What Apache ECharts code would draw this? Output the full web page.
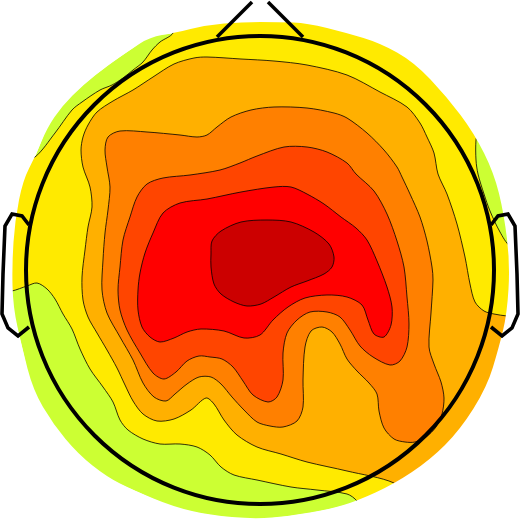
<!DOCTYPE html>
<html>
<head>
<meta charset="utf-8">
<script src="https://cdn.jsdelivr.net/npm/echarts@6/dist/echarts.min.js"></script>
<style>
html,body{margin:0;padding:0;background:#fff;}
#chart{width:521px;height:521px;}
</style>
</head>
<body>
<div id="chart"></div>
<script>
// Head-centred coordinates: x to the right, y upwards, head radius = 234 units.
const headRadius = 234;

// Colour of each contour level, lowest to highest.
const levelColors = ['#ccff33', '#ffea00', '#ffb000', '#ff8000', '#ff4500', '#ff0000', '#cc0000'];

// Outline of the interpolated (coloured) area.
const outerBoundary = [
  [-86,237],[-53,245],[-19,248],[20,248],[47,247],[87,237],[120,227],[154,208],[187,173],[214,137],
  [234,97],[244,56],[250,6],[247,-44],[239,-77],[227,-117],[200,-160],[170,-190],[134,-214],[97,-231],
  [70,-239],[30,-246],[-6,-249],[-50,-245],[-86,-237],[-127,-220],[-153,-207],[-182,-184],[-207,-154],
  [-227,-120],[-238,-77],[-247,-37],[-248,6],[-245,50],[-237,90],[-225,113],[-213,142],[-198,164],
  [-177,185],[-153,204],[-130,220],[-110,233]
];

// Level 1 region (yellow and above).
const level1 = [
  [-87,237],[-85,255],[0,262],[90,252],[170,215],[230,152],[218,136],
  [216,130],[216,110],[218,96],[224,76],[230,59],[240,38],[250,24],
  [261,24],[261,-130],[230,-200],[150,-250],[102,-242],[97,-231],
  [87,-224],[57,-220],[31,-217],[-3,-210],[-26,-205],[-39,-197],[-50,-185],[-63,-177],[-80,-174],
  [-100,-174],[-117,-169],[-132,-160],[-140,-150],[-147,-132],[-157,-117],[-170,-99],[-180,-79],
  [-188,-59],[-197,-44],[-205,-29],[-213,-19],[-223,-13],[-233,-16],[-248,-21],
  [-260,-22],[-260,95],[-240,110],
  [-225,113],[-205,137],[-188,160],[-178,168],[-160,180],[-148,185],[-137,192],[-127,200],
  [-117,208],[-108,220],[-100,228]
];

// Level 2 region (light orange and above).
const level2 = [
  [134,-213],[87,-201],[47,-192],[21,-184],[-3,-177],[-23,-165],[-36,-150],[-46,-134],[-54,-128],
  [-69,-140],[-86,-149],[-103,-151],[-117,-144],[-127,-131],[-135,-115],[-143,-98],[-153,-80],
  [-163,-63],[-172,-47],[-177,-30],[-178,-7],[-175,20],[-172,43],[-168,63],[-170,83],[-177,103],
  [-179,120],[-177,133],[-172,145],[-163,158],[-147,169],[-127,180],[-107,193],[-86,206],[-66,212],
  [-53,213],[-19,211],[14,209],[47,205],[87,195],[120,178],[147,163],[160,147],[167,133],[174,117],
  [178,96],[187,76],[197,46],[205,13],[210,-14],[215,-32],[224,-41],[234,-44],[247,-46],
  [261,-47],[261,-140],[200,-200],[140,-225]
];

// Level 3 region (orange and above).
const level3 = [
  [-152,133],[-140,139],[-113,138],[-80,135],[-63,133],[-53,135],[-43,143],[-29,153],[-9,160],
  [14,163],[47,162],[74,157],[87,152],[107,137],[124,120],[137,103],[142,93],[150,76],[160,53],
  [167,29],[172,3],[173,-10],[171,-43],[169,-77],[174,-94],[181,-112],[184,-128],[182,-144],
  [176,-157],[166,-167],[155,-172],[145,-172],[134,-169],[124,-158],[119,-141],[117,-124],
  [109,-113],[97,-101],[87,-89],[80,-74],[72,-62],[62,-57],[51,-61],[45,-77],[43,-110],[43,-137],
  [37,-151],[23,-157],[10,-156],[-3,-152],[-16,-140],[-28,-127],[-39,-114],[-49,-107],[-61,-107],
  [-73,-114],[-85,-124],[-94,-131],[-106,-127],[-117,-113],[-127,-90],[-140,-67],[-153,-43],
  [-158,-20],[-157,10],[-155,37],[-152,60],[-150,83],[-153,103],[-155,120]
];

// Level 4 region (red-orange and above).
const level4 = [
  [-142,-20],[-140,3],[-137,30],[-130,53],[-123,73],[-113,86],[-97,92],[-70,95],[-40,100],
  [-20,107],[-3,114],[24,123],[47,123],[67,118],[87,107],[96,96],[114,79],[127,56],[137,29],
  [144,3],[147,-27],[149,-54],[147,-77],[140,-91],[130,-95],[113,-87],[100,-76],[90,-60],
  [80,-47],[67,-42],[50,-42],[37,-50],[27,-63],[23,-83],[23,-110],[17,-127],[8,-132],[-7,-125],
  [-17,-111],[-27,-97],[-38,-89],[-50,-87],[-61,-86],[-73,-91],[-84,-102],[-96,-109],[-107,-103],
  [-120,-83],[-133,-60],[-140,-40]
];

// Level 5 region (red and above).
const level5 = [
  [-122,-20],[-120,-3],[-115,17],[-107,37],[-97,57],[-80,67],[-53,71],[-19,78],[14,83],[31,83],
  [47,76],[64,66],[81,53],[96,42],[107,30],[117,9],[127,-17],[132,-37],[131,-55],[124,-67],
  [114,-64],[108,-50],[102,-35],[87,-27],[67,-25],[45,-28],[28,-37],[13,-50],[0,-65],[-16,-68],
  [-36,-61],[-59,-59],[-73,-62],[-86,-68],[-100,-72],[-110,-67],[-118,-57],[-122,-40]
];

// Level 6 region (dark red, the maximum).
const level6 = [
  [-49,16],[-48,29],[-39,39],[-19,48],[7,50],[31,48],[54,38],[69,26],[74,13],[72,3],[64,-4],
  [47,-11],[31,-17],[14,-27],[1,-34],[-13,-36],[-26,-32],[-39,-24],[-46,-14],[-49,3]
];

// Head furniture.
const noseLeft = [[-43,233],[-8,268]];
const noseRight = [[8,268],[43,233]];
const leftEar = [[-231,45],[-238,54],[-248,56],[-255,44],[-257,-4],[-258,-44],[-252,-58],[-242,-66],[-231,-57]];
const rightEar = [[231,45],[238,54],[248,56],[255,44],[257,-4],[258,-44],[252,-58],[242,-66],[231,-57]];

const levelRegions = [outerBoundary, level1, level2, level3, level4, level5, level6];

const chart = echarts.init(document.getElementById('chart'), null, {renderer: 'canvas'});

function regionSeries(points, color, withStroke, z) {
  return {
    type: 'custom',
    coordinateSystem: 'cartesian2d',
    silent: true,
    z: z,
    data: [[0, 0]],
    renderItem: function (params, api) {
      return {
        type: 'polygon',
        shape: {points: points.map(function (p) { return api.coord(p); }), smooth: 0.3},
        style: {
          fill: color,
          stroke: withStroke ? '#000' : null,
          lineWidth: withStroke ? 0.8 : 0
        }
      };
    }
  };
}

const series = levelRegions.map(function (pts, i) {
  return regionSeries(pts, levelColors[i], i > 0, 2);
});

// White mask outside the interpolated area (rounded through segment midpoints).
series.push({
  type: 'custom',
  coordinateSystem: 'cartesian2d',
  silent: true,
  z: 3,
  data: [[0, 0]],
  renderItem: function (params, api) {
    const cs = params.coordSys;
    const x0 = cs.x - 20, y0 = cs.y - 20, x1 = cs.x + cs.width + 20, y1 = cs.y + cs.height + 20;
    let pts = outerBoundary.map(function (p) { return api.coord(p); });
    let area = 0;
    for (let i = 0; i < pts.length; i++) {
      const a = pts[i], b = pts[(i + 1) % pts.length];
      area += a[0] * b[1] - b[0] * a[1];
    }
    if (area > 0) pts = pts.slice().reverse();
    const n = pts.length;
    const mid = function (a, b) { return [(a[0] + b[0]) / 2, (a[1] + b[1]) / 2]; };
    const f = function (p) { return p[0].toFixed(2) + ' ' + p[1].toFixed(2); };
    let d = 'M' + x0 + ' ' + y0 + 'L' + x1 + ' ' + y0 + 'L' + x1 + ' ' + y1 + 'L' + x0 + ' ' + y1 + 'Z';
    d += 'M' + f(mid(pts[n - 1], pts[0]));
    for (let i = 0; i < n; i++) {
      d += 'Q' + f(pts[i]) + ' ' + f(mid(pts[i], pts[(i + 1) % n]));
    }
    d += 'Z';
    return {type: 'path', shape: {pathData: d}, style: {fill: '#fff', stroke: null}};
  }
});

// Head outline, nose and ears.
series.push({
  type: 'custom',
  coordinateSystem: 'cartesian2d',
  silent: true,
  z: 4,
  data: [[0, 0]],
  renderItem: function (params, api) {
    const c = api.coord([0, 0]);
    const r = api.size([headRadius, headRadius]);
    const line = function (pts) {
      return {
        type: 'polyline',
        shape: {points: pts.map(function (p) { return api.coord(p); })},
        style: {fill: null, stroke: '#000', lineWidth: 3.6, lineJoin: 'miter'}
      };
    };
    return {
      type: 'group',
      children: [
        {type: 'circle', shape: {cx: c[0], cy: c[1], r: r[0]}, style: {fill: null, stroke: '#000', lineWidth: 4}},
        line(noseLeft),
        line(noseRight),
        line(leftEar),
        line(rightEar)
      ]
    };
  }
});

chart.setOption({
  animation: false,
  backgroundColor: '#fff',
  grid: {left: 0, right: 0, top: 0, bottom: 0},
  xAxis: {type: 'value', min: -260, max: 261, show: false},
  yAxis: {type: 'value', min: -251, max: 270, show: false},
  series: series
});
</script>
</body>
</html>
